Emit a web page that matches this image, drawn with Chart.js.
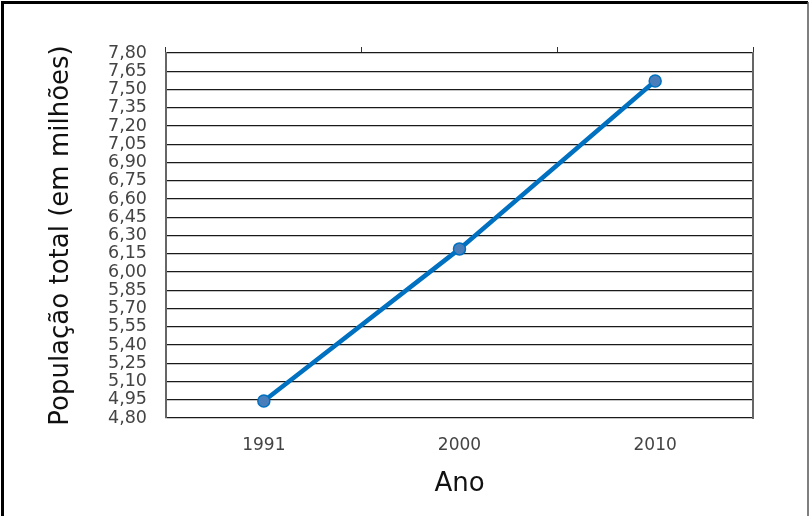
<!DOCTYPE html>
<html>
<head>
<meta charset="utf-8">
<script src="https://cdn.jsdelivr.net/npm/chart.js@4"></script>
<style>
  body { margin: 0; background: #fff; }
  #wrap { width: 812px; height: 516px; }
</style>
</head>
<body>
<div id="wrap"><canvas id="popChart"></canvas></div>
<script>
// Data
const years = ['1991', '2000', '2010'];
const population = [4.94, 6.19, 7.57];
const yTicks = [4.80, 4.95, 5.10, 5.25, 5.40, 5.55, 5.70, 5.85, 6.00, 6.15, 6.30,
                6.45, 6.60, 6.75, 6.90, 7.05, 7.20, 7.35, 7.50, 7.65, 7.80];

const labelFont = '"DejaVu Sans", sans-serif';

// Outer frame of the picture
const framePlugin = {
    id: 'frame',
    afterDraw(chart) {
        const ctx = chart.ctx;
        ctx.save();
        ctx.strokeStyle = '#000';
        ctx.lineWidth = 3;
        ctx.beginPath();
        ctx.moveTo(2.5, 516);
        ctx.lineTo(2.5, 2.5);
        ctx.lineTo(808, 2.5);
        ctx.stroke();
        ctx.strokeStyle = '#555';
        ctx.lineWidth = 1.5;
        ctx.beginPath();
        ctx.moveTo(808, 2);
        ctx.lineTo(808, 516);
        ctx.stroke();
        ctx.restore();
    }
};

const ctx = document.getElementById('popChart').getContext('2d');
new Chart(ctx, {
    type: 'line',
    data: {
        labels: years,
        datasets: [{
            data: population,
            borderColor: '#0070c0',
            borderWidth: 4.5,
            pointRadius: 6,
            pointBackgroundColor: '#4a7ebb',
            pointBorderColor: '#0070c0',
            pointBorderWidth: 1.5,
            tension: 0
        }]
    },
    plugins: [framePlugin],
    options: {
        responsive: true,
        maintainAspectRatio: false,
        animation: false,
        layout: { padding: 0 },
        plugins: {
            legend: { display: false },
            tooltip: { enabled: false }
        },
        scales: {
            x: {
                position: 'bottom',
                offset: true,
                grid: { display: false, drawTicks: false, offset: true },
                border: { display: false },
                ticks: {
                    color: '#444',
                    font: { family: labelFont, size: 17 },
                    padding: 17
                },
                title: {
                    display: true,
                    text: 'Ano',
                    color: '#111',
                    font: { family: labelFont, size: 26 },
                    padding: { top: 0, bottom: 16 }
                },
                afterFit(scale) { scale.height = 98; }
            },
            xTop: {
                position: 'top',
                labels: years,
                offset: true,
                grid: {
                    offset: true,
                    drawOnChartArea: false,
                    drawTicks: true,
                    tickLength: 6,
                    color: '#333',
                    lineWidth: 1
                },
                border: { display: false },
                ticks: { display: false },
                afterFit(scale) { scale.height = 53; }
            },
            y: {
                position: 'left',
                min: 4.80,
                max: 7.80,
                afterBuildTicks(scale) {
                    scale.ticks = yTicks.map(v => ({ value: v }));
                },
                grid: {
                    color: '#1a1a1a',
                    lineWidth: 1.2,
                    drawTicks: false
                },
                border: { display: true, color: '#666', width: 2 },
                ticks: {
                    autoSkip: false,
                    color: '#444',
                    font: { family: labelFont, size: 17.5 },
                    padding: 19,
                    callback: value => Number(value).toFixed(2).replace('.', ',')
                },
                title: {
                    display: true,
                    text: 'População total (em milhões)',
                    color: '#111',
                    font: { family: labelFont, size: 26 },
                    padding: { top: 46, bottom: 0 }
                },
                afterFit(scale) { scale.width = 166; }
            },
            yRight: {
                position: 'right',
                min: 4.80,
                max: 7.80,
                grid: { drawOnChartArea: false, drawTicks: false },
                border: { display: true, color: '#666', width: 2 },
                ticks: { display: false },
                afterFit(scale) { scale.width = 59; }
            }
        }
    }
});
</script>
</body>
</html>
